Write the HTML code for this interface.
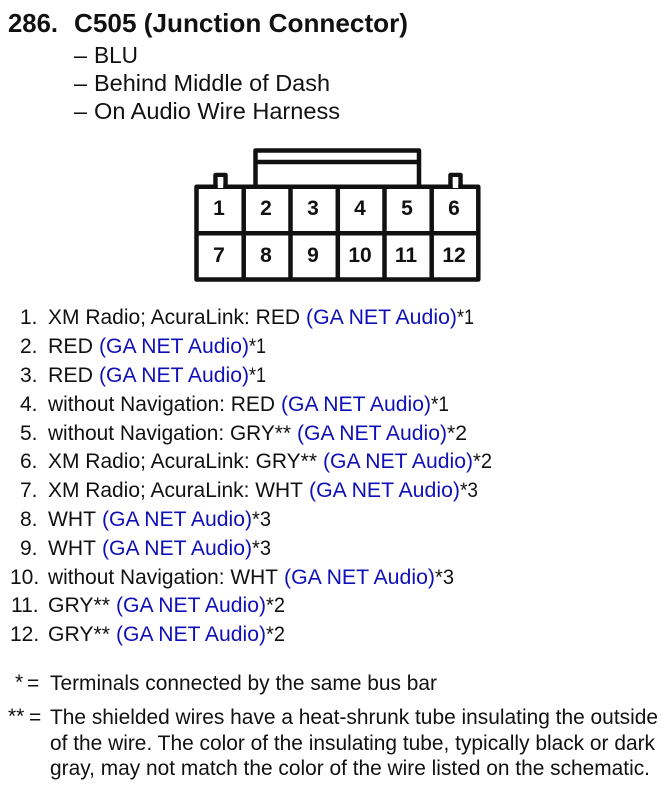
<!DOCTYPE html>
<html>
<head>
<meta charset="utf-8">
<style>
html,body{margin:0;padding:0;background:#fff;width:670px;height:790px;overflow:hidden}
svg{display:block}
text{font-family:"Liberation Sans",Arial,sans-serif;font-size:21px;fill:#111}
.b{fill:#1010b8}
.t{font-size:26px;font-weight:bold}
.h{font-size:23.4px}
.n{font-size:21px;font-weight:bold;text-anchor:middle}
</style>
</head>
<body>
<svg width="670" height="790" viewBox="0 0 670 790" xmlns="http://www.w3.org/2000/svg">
<text class="t" x="8" y="32" textLength="50" lengthAdjust="spacingAndGlyphs">286.</text>
<text class="t" x="74" y="32" textLength="334" lengthAdjust="spacingAndGlyphs">C505 (Junction Connector)</text>
<text class="h" x="74" y="63">–</text><text class="h" x="94" y="63" textLength="44" lengthAdjust="spacingAndGlyphs">BLU</text>
<text class="h" x="74" y="91">–</text><text class="h" x="94" y="91" textLength="236" lengthAdjust="spacingAndGlyphs">Behind Middle of Dash</text>
<text class="h" x="74" y="119">–</text><text class="h" x="94" y="119" textLength="246" lengthAdjust="spacingAndGlyphs">On Audio Wire Harness</text>

<g fill="none" stroke="#111" stroke-width="4.5" stroke-linejoin="round">
<rect x="196.5" y="186.7" width="281.8" height="92.8"/>
<path d="M243.7 186.7V279.5M290.5 186.7V279.5M337.8 186.7V279.5M384.5 186.7V279.5M431.7 186.7V279.5M196.5 233.3H478.3"/>
<path d="M255.5 186.7V150.5H419V186.7M255.5 162H419"/>
<path d="M215.5 186.7V175H225.5V186.7"/>
<path d="M450.5 186.7V175H460.5V186.7"/>
</g>
<rect x="217.8" y="177" width="5.4" height="11" fill="#fff"/>
<rect x="452.8" y="177" width="5.4" height="11" fill="#fff"/>
<text class="n" x="219" y="215">1</text><text class="n" x="266" y="215">2</text><text class="n" x="313" y="215">3</text><text class="n" x="360" y="215">4</text><text class="n" x="407" y="215">5</text><text class="n" x="454" y="215">6</text>
<text class="n" x="219" y="262">7</text><text class="n" x="266" y="262">8</text><text class="n" x="313" y="262">9</text><text class="n" x="360" y="262">10</text><text class="n" x="406" y="262">11</text><text class="n" x="454" y="262">12</text>

<text x="20" y="324">1.</text><text x="48" y="324" textLength="252" lengthAdjust="spacingAndGlyphs">XM Radio; AcuraLink: RED</text><text class="b" x="306" y="324" textLength="151" lengthAdjust="spacingAndGlyphs">(GA NET Audio)</text><text x="457" y="324" textLength="17" lengthAdjust="spacingAndGlyphs">*1</text>
<text x="20" y="353">2.</text><text x="48" y="353" textLength="45" lengthAdjust="spacingAndGlyphs">RED</text><text class="b" x="99" y="353" textLength="150" lengthAdjust="spacingAndGlyphs">(GA NET Audio)</text><text x="249" y="353" textLength="17" lengthAdjust="spacingAndGlyphs">*1</text>
<text x="20" y="382">3.</text><text x="48" y="382" textLength="45" lengthAdjust="spacingAndGlyphs">RED</text><text class="b" x="99" y="382" textLength="150" lengthAdjust="spacingAndGlyphs">(GA NET Audio)</text><text x="249" y="382" textLength="17" lengthAdjust="spacingAndGlyphs">*1</text>
<text x="20" y="411">4.</text><text x="48" y="411" textLength="227" lengthAdjust="spacingAndGlyphs">without Navigation: RED</text><text class="b" x="281" y="411" textLength="150" lengthAdjust="spacingAndGlyphs">(GA NET Audio)</text><text x="431" y="411" textLength="18" lengthAdjust="spacingAndGlyphs">*1</text>
<text x="20" y="440">5.</text><text x="48" y="440" textLength="243" lengthAdjust="spacingAndGlyphs">without Navigation: GRY**</text><text class="b" x="297" y="440" textLength="150" lengthAdjust="spacingAndGlyphs">(GA NET Audio)</text><text x="447" y="440" textLength="20" lengthAdjust="spacingAndGlyphs">*2</text>
<text x="20" y="468">6.</text><text x="48" y="468" textLength="269" lengthAdjust="spacingAndGlyphs">XM Radio; AcuraLink: GRY**</text><text class="b" x="323" y="468" textLength="150" lengthAdjust="spacingAndGlyphs">(GA NET Audio)</text><text x="473" y="468" textLength="19" lengthAdjust="spacingAndGlyphs">*2</text>
<text x="20" y="497">7.</text><text x="48" y="497" textLength="255" lengthAdjust="spacingAndGlyphs">XM Radio; AcuraLink: WHT</text><text class="b" x="309" y="497" textLength="151" lengthAdjust="spacingAndGlyphs">(GA NET Audio)</text><text x="460" y="497" textLength="18" lengthAdjust="spacingAndGlyphs">*3</text>
<text x="20" y="526">8.</text><text x="48" y="526" textLength="48" lengthAdjust="spacingAndGlyphs">WHT</text><text class="b" x="102" y="526" textLength="150" lengthAdjust="spacingAndGlyphs">(GA NET Audio)</text><text x="252" y="526" textLength="19" lengthAdjust="spacingAndGlyphs">*3</text>
<text x="20" y="555">9.</text><text x="48" y="555" textLength="48" lengthAdjust="spacingAndGlyphs">WHT</text><text class="b" x="102" y="555" textLength="150" lengthAdjust="spacingAndGlyphs">(GA NET Audio)</text><text x="252" y="555" textLength="19" lengthAdjust="spacingAndGlyphs">*3</text>
<text x="10" y="584">10.</text><text x="48" y="584" textLength="230" lengthAdjust="spacingAndGlyphs">without Navigation: WHT</text><text class="b" x="284" y="584" textLength="151" lengthAdjust="spacingAndGlyphs">(GA NET Audio)</text><text x="435" y="584" textLength="19" lengthAdjust="spacingAndGlyphs">*3</text>
<text x="11" y="612">11.</text><text x="48" y="612" textLength="62" lengthAdjust="spacingAndGlyphs">GRY**</text><text class="b" x="116" y="612" textLength="150" lengthAdjust="spacingAndGlyphs">(GA NET Audio)</text><text x="266" y="612" textLength="19" lengthAdjust="spacingAndGlyphs">*2</text>
<text x="10" y="641">12.</text><text x="48" y="641" textLength="62" lengthAdjust="spacingAndGlyphs">GRY**</text><text class="b" x="116" y="641" textLength="150" lengthAdjust="spacingAndGlyphs">(GA NET Audio)</text><text x="266" y="641" textLength="19" lengthAdjust="spacingAndGlyphs">*2</text>

<text x="15" y="689">*</text><text x="27" y="690">=</text>
<text x="50" y="690" textLength="387" lengthAdjust="spacingAndGlyphs">Terminals connected by the same bus bar</text>
<text x="8" y="723">**</text><text x="29" y="724">=</text>
<text x="50" y="724" textLength="608" lengthAdjust="spacingAndGlyphs">The shielded wires have a heat-shrunk tube insulating the outside</text>
<text x="50" y="750" textLength="605" lengthAdjust="spacingAndGlyphs">of the wire. The color of the insulating tube, typically black or dark</text>
<text x="50" y="775" textLength="600" lengthAdjust="spacingAndGlyphs">gray, may not match the color of the wire listed on the schematic.</text>
</svg>
</body>
</html>
